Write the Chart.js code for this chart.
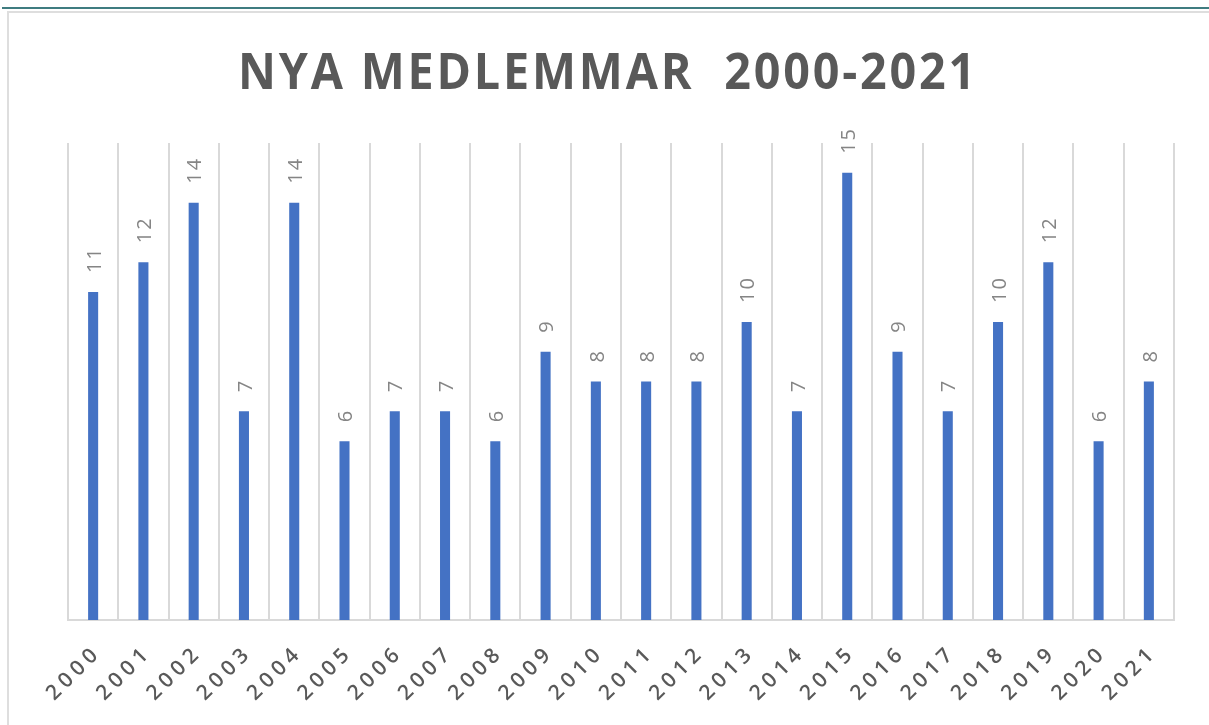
<!DOCTYPE html>
<html>
<head>
<meta charset="utf-8">
<script src="https://cdn.jsdelivr.net/npm/chart.js@4.4.1/dist/chart.umd.min.js"></script>
<style>
  html, body { margin: 0; padding: 0; background: #fff; }
  #wrap { position: relative; width: 1209px; height: 725px; overflow: hidden; }
  #teal { position: absolute; left: 2px; top: 7px; width: 1207px; height: 2px; background: #3f7c80; }
  #frameTop { position: absolute; left: 8px; top: 11px; width: 1201px; height: 2px; background: #dedede; }
  #frameLeft { position: absolute; left: 7px; top: 11px; width: 2px; height: 714px; background: #dedede; }
  canvas { position: absolute; left: 0; top: 0; }
</style>
</head>
<body>
<div id="wrap">
  <div id="teal"></div>
  <div id="frameTop"></div>
  <div id="frameLeft"></div>
  <canvas id="c" width="1209" height="725"></canvas>
</div>
<script>
const chartTitle = "NYA MEDLEMMAR  2000-2021";
const years = ["2000","2001","2002","2003","2004","2005","2006","2007","2008","2009","2010",
               "2011","2012","2013","2014","2015","2016","2017","2018","2019","2020","2021"];
const newMembers = [11, 12, 14, 7, 14, 6, 7, 7, 6, 9, 8, 8, 8, 10, 7, 15, 9, 7, 10, 12, 6, 8];

const spacingPlugin = {
  id: 'spacing',
  beforeDraw(chart) { chart.ctx.letterSpacing = '5px'; }
};

const valueLabels = {
  id: 'valueLabels',
  afterDatasetsDraw(chart) {
    const ctx = chart.ctx;
    const meta = chart.getDatasetMeta(0);
    ctx.save();
    ctx.letterSpacing = '2px';
    ctx.font = "20px 'Open Sans'";
    ctx.fillStyle = '#858585';
    ctx.textAlign = 'left';
    ctx.textBaseline = 'middle';
    meta.data.forEach((bar, i) => {
      ctx.save();
      ctx.translate(bar.x + 2, bar.y - 19);
      ctx.rotate(-Math.PI / 2);
      ctx.fillText(String(newMembers[i]), 0, 0);
      ctx.restore();
    });
    ctx.restore();
  }
};

const titlePlugin = {
  id: 'customTitle',
  afterDraw(chart) {
    const ctx = chart.ctx;
    ctx.save();
    ctx.letterSpacing = '3px';
    ctx.font = "bold 50px 'Open Sans'";
    ctx.fillStyle = '#595959';
    ctx.textBaseline = 'alphabetic';
    ctx.textAlign = 'left';
    const w = ctx.measureText(chartTitle).width;
    const target = 740;
    const sx = target / w;
    ctx.translate(238, 89);
    ctx.scale(sx, 1);
    ctx.fillText(chartTitle, 0, 0);
    ctx.restore();
  }
};

new Chart(document.getElementById('c'), {
  type: 'bar',
  data: {
    labels: years,
    datasets: [{
      data: newMembers,
      backgroundColor: '#4472C4',
      borderWidth: 0,
      barPercentage: 0.2,
      categoryPercentage: 1.0
    }]
  },
  options: {
    responsive: false,
    animation: false,
    devicePixelRatio: 1,
    layout: { padding: { top: 143, left: 68, right: 35, bottom: 0 } },
    plugins: {
      legend: { display: false },
      title: { display: false },
      tooltip: { enabled: false }
    },
    scales: {
      x: {
        grid: { color: '#d9d9d9', lineWidth: 2, drawTicks: false, offset: true },
        border: { color: '#d9d9d9', width: 2 },
        ticks: {
          autoSkip: false,
          minRotation: 45,
          maxRotation: 45,
          padding: 20,
          labelOffset: 5,
          color: '#595959',
          font: { family: "'Open Sans'", size: 21, weight: '600' }
        },
        afterFit(scale) {
          scale.height = 105;
          scale.paddingLeft = 0;
          scale.paddingRight = 0;
        }
      },
      y: {
        display: false,
        min: 0,
        max: 16
      }
    }
  },
  plugins: [spacingPlugin, valueLabels, titlePlugin]
});
</script>
</body>
</html>
